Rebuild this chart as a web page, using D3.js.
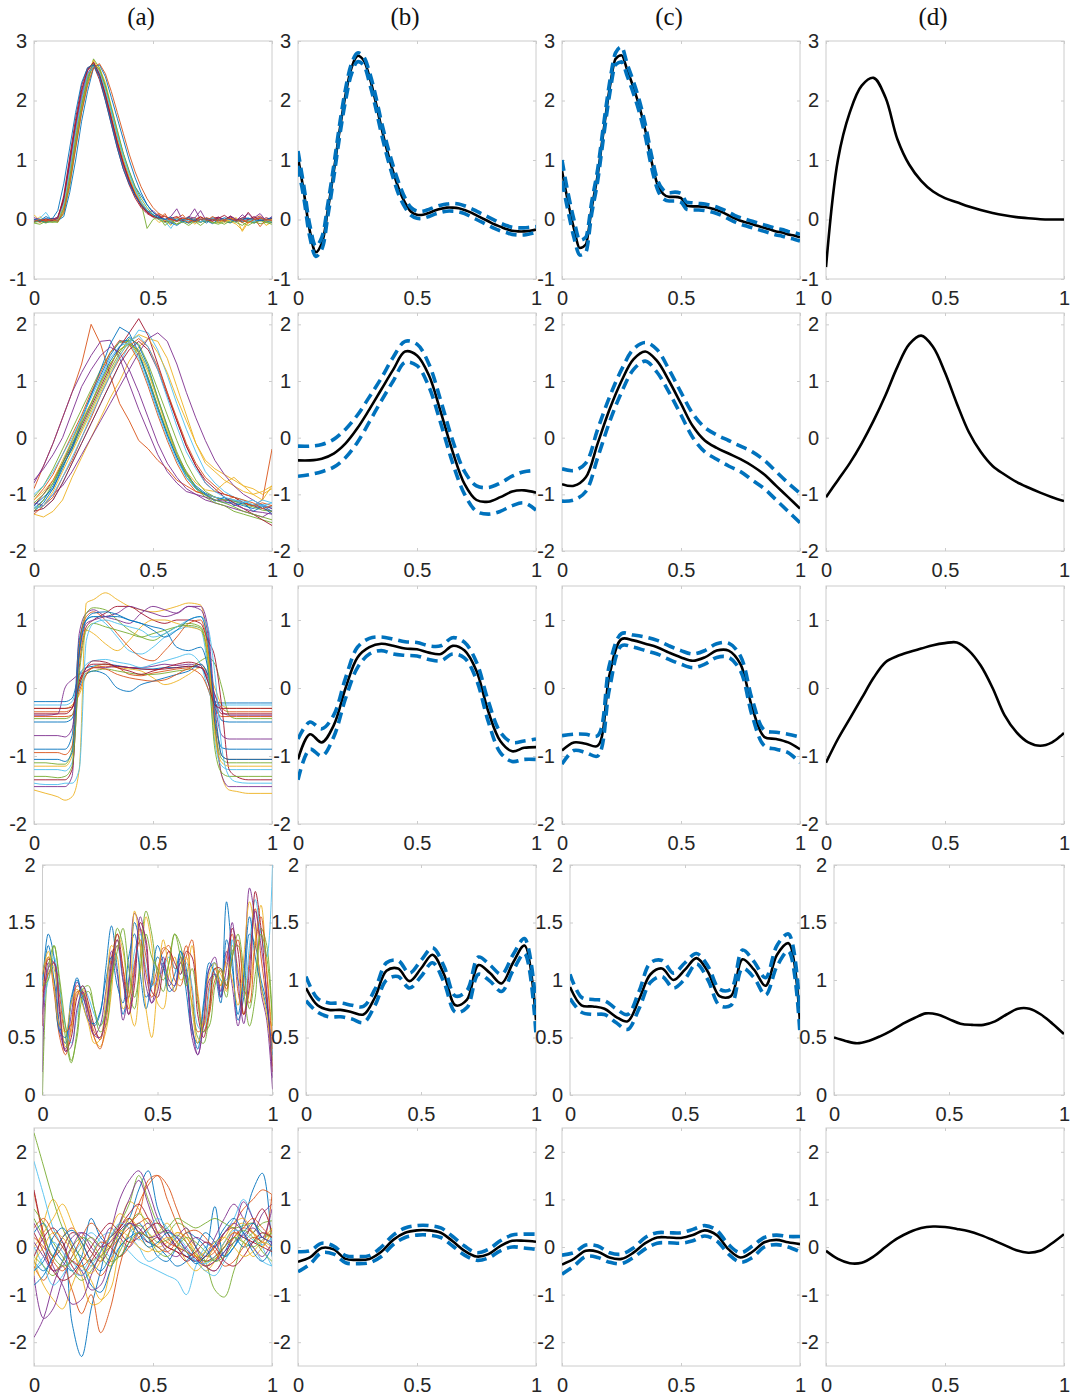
<!DOCTYPE html>
<html>
<head>
<meta charset="utf-8">
<script src="https://cdn.jsdelivr.net/npm/d3@7"></script>
<style>
  body { margin: 0; background: #fff; }
  svg { display: block; }
</style>
</head>
<body>
<svg id="fig" width="1070" height="1397"></svg>
<script>
// ---------- sample grids ----------
const grid21 = [0,0.05,0.1,0.15,0.2,0.25,0.3,0.35,0.4,0.45,0.5,0.55,0.6,0.65,0.7,0.75,0.8,0.85,0.9,0.95,1];
const grid41 = [0,0.025,0.05,0.075,0.1,0.125,0.15,0.175,0.2,0.225,0.25,0.275,0.3,0.325,0.35,0.375,0.4,0.425,0.45,0.475,0.5,
                0.525,0.55,0.575,0.6,0.625,0.65,0.675,0.7,0.725,0.75,0.775,0.8,0.825,0.85,0.875,0.9,0.925,0.95,0.975,1];
const grid26 = [0,0.04,0.08,0.12,0.16,0.2,0.24,0.28,0.32,0.36,0.4,0.44,0.48,0.52,0.56,0.6,0.64,0.68,0.72,0.76,0.8,0.84,0.88,0.92,0.96,1];
const gridStep = [0,0.05,0.1,0.13,0.16,0.19,0.22,0.25,0.3,0.35,0.4,0.45,0.5,0.55,0.6,0.65,0.7,0.73,0.76,0.79,0.82,0.85,0.9,0.95,1];

// ---------- tick labels ----------
const columnTitles = ["(a)", "(b)", "(c)", "(d)"];
const xTickValues = [0, 0.5, 1];
const yTicksRow1 = [-1, 0, 1, 2, 3];
const yTicksRow2 = [-2, -1, 0, 1, 2];
const yTicksRow3 = [-2, -1, 0, 1];
const yTicksRow4 = [0, 0.5, 1, 1.5, 2];
const yTicksRow5 = [-2, -1, 0, 1, 2];
const yDomainRow1 = [-1, 3];
const yDomainRow2 = [-2, 2.2];
const yDomainRow3 = [-2, 1.5];
const yDomainRow4 = [0, 2];
const yDomainRow5 = [-2.5, 2.5];

// ---------- row 1: pulse-shaped observations (grid41) ----------
const obsRow1 = [
  [-0.02,0.0,-0.05,0.02,0.0,0.2,0.7,1.3,1.9,2.35,2.6,2.5,2.2,1.8,1.45,1.1,0.8,0.55,0.4,0.25,0.12,0.05,0.0,-0.08,0.02,-0.05,0.03,-0.02,0.0,-0.06,0.02,0.0,-0.04,0.05,-0.03,0.0,0.02,-0.05,0.0,-0.03,-0.02],
  [0.0,-0.05,0.0,-0.03,0.05,0.35,0.95,1.6,2.15,2.5,2.62,2.4,2.05,1.65,1.25,0.9,0.62,0.4,0.22,0.12,0.06,0.0,0.1,-0.05,0.02,0.08,-0.04,0.0,0.05,-0.02,0.03,-0.05,0.0,0.04,-0.02,0.0,-0.05,0.02,0.06,-0.02,0.0],
  [-0.05,0.05,-0.04,0.0,-0.02,0.15,0.65,1.25,1.85,2.3,2.55,2.55,2.3,1.9,1.5,1.1,0.78,0.5,0.3,0.15,0.05,-0.05,0.0,-0.1,0.03,-0.02,0.05,-0.08,0.0,-0.04,0.02,-0.06,0.0,-0.03,-0.08,-0.18,0.0,-0.05,0.03,-0.1,-0.04],
  [0.0,-0.02,0.02,0.0,0.03,0.3,0.9,1.55,2.1,2.5,2.65,2.45,2.1,1.7,1.3,0.95,0.65,0.42,0.25,0.13,0.06,0.02,0.0,0.05,0.18,-0.02,0.05,0.02,0.15,-0.03,0.02,0.04,0.0,0.05,-0.02,0.08,0.0,0.03,0.1,-0.02,0.05],
  [-0.06,-0.08,-0.03,-0.05,-0.04,0.1,0.55,1.2,1.8,2.3,2.7,2.55,2.25,1.85,1.4,1.0,0.7,0.45,0.28,-0.15,0.0,0.05,-0.1,-0.02,-0.08,0.0,-0.06,-0.03,-0.1,-0.02,-0.05,-0.08,-0.03,-0.06,0.0,-0.05,-0.1,-0.04,-0.07,-0.05,-0.08],
  [0.0,0.02,0.12,-0.02,0.0,0.25,0.85,1.5,2.05,2.45,2.6,2.5,2.2,1.85,1.45,1.1,0.8,0.52,0.3,0.15,0.05,0.0,-0.03,-0.15,0.0,-0.02,0.02,-0.05,0.0,-0.03,0.04,-0.02,0.0,0.02,-0.04,0.0,0.03,-0.02,0.0,-0.04,0.0],
  [-0.03,0.0,-0.02,0.02,0.0,0.4,1.05,1.7,2.25,2.55,2.6,2.35,2.0,1.6,1.2,0.85,0.58,0.36,0.2,0.1,0.04,0.08,-0.04,0.02,0.05,-0.02,0.0,0.03,-0.05,0.02,0.0,0.04,-0.02,0.06,0.0,-0.03,0.12,0.0,-0.02,0.03,0.0],
  [-0.04,-0.02,-0.05,-0.03,-0.02,0.05,0.45,1.0,1.65,2.15,2.55,2.6,2.4,2.05,1.7,1.35,1.0,0.7,0.45,0.25,0.12,0.05,0.0,-0.05,-0.1,-0.03,-0.06,0.0,-0.04,-0.02,-0.07,0.0,-0.03,-0.05,0.0,-0.04,-0.02,-0.06,0.0,-0.03,-0.05],
  [-0.02,0.0,-0.03,0.0,0.02,0.28,0.8,1.45,2.0,2.42,2.58,2.42,2.12,1.72,1.32,0.98,0.68,0.44,0.26,0.14,0.06,0.1,0.0,-0.03,0.04,0.0,-0.05,0.02,0.0,-0.02,0.05,0.0,-0.03,0.02,0.0,-0.05,0.0,0.02,-0.12,0.0,-0.02],
  [0.08,-0.02,0.0,-0.03,0.0,0.22,0.75,1.4,1.95,2.4,2.68,2.5,2.15,1.75,1.35,1.0,0.7,0.46,0.28,0.15,0.07,0.02,-0.02,0.03,-0.03,0.0,0.02,-0.04,0.01,0.0,-0.03,0.02,-0.05,0.0,0.03,-0.2,-0.05,0.0,0.02,-0.03,0.0],
  [0.03,0.0,-0.02,0.0,0.04,0.32,0.92,1.52,2.05,2.45,2.6,2.42,2.08,1.68,1.28,0.93,0.64,0.4,0.24,0.12,0.15,0.05,0.0,0.02,-0.03,0.0,0.03,0.18,0.0,0.02,-0.02,0.03,0.0,0.05,0.0,0.02,0.1,0.0,0.04,0.0,0.02],
  [-0.05,-0.03,-0.06,-0.02,-0.05,0.18,0.7,1.35,1.92,2.38,2.62,2.52,2.25,1.88,1.5,1.12,0.82,0.55,0.35,0.2,0.08,0.0,-0.05,-0.02,-0.08,-0.04,-0.1,-0.03,-0.05,0.0,-0.06,-0.04,-0.08,-0.02,-0.05,-0.1,-0.03,-0.06,-0.02,-0.05,-0.04],
  [-0.02,0.0,0.02,-0.01,0.01,0.26,0.82,1.48,2.02,2.44,2.58,2.48,2.18,1.82,1.42,1.06,0.76,0.5,0.3,0.16,0.08,0.02,0.0,-0.03,0.01,0.0,-0.02,0.02,-0.04,0.0,0.02,-0.02,0.01,0.0,-0.03,0.02,0.0,-0.04,0.01,0.0,-0.02],
  [0.0,-0.03,0.01,-0.02,0.02,0.35,0.98,1.62,2.18,2.52,2.64,2.44,2.1,1.7,1.3,0.95,0.66,0.42,0.24,0.12,0.05,0.02,0.06,0.0,-0.02,0.03,0.0,-0.02,0.04,0.0,-0.03,0.02,0.07,0.0,-0.02,0.03,0.0,0.05,-0.02,0.0,0.02],
  [0.0,-0.02,0.05,0.0,0.15,0.6,1.2,1.8,2.3,2.55,2.6,2.4,2.0,1.6,1.2,0.85,0.6,0.4,0.25,0.15,0.08,0.03,0.0,0.04,-0.02,0.0,0.03,-0.03,0.0,0.02,0.0,-0.02,0.03,0.0,-0.03,0.0,0.02,0.0,-0.02,0.0,0.03],
  [-0.03,0.0,-0.02,0.0,-0.03,0.12,0.6,1.2,1.8,2.25,2.55,2.62,2.45,2.15,1.8,1.45,1.1,0.8,0.55,0.35,0.2,0.1,0.05,0.0,-0.03,0.02,0.0,-0.04,0.0,0.03,0.0,-0.02,0.0,0.02,-0.03,0.0,-0.06,0.0,0.02,0.0,-0.02]
];
// row 1, estimate (b) on grid41
const meanB1 = [1.05,0.45,-0.2,-0.55,-0.4,0.15,0.8,1.5,2.1,2.55,2.75,2.68,2.4,2.0,1.55,1.15,0.8,0.5,0.28,0.13,0.08,0.08,0.11,0.15,0.18,0.2,0.2,0.19,0.16,0.12,0.07,0.02,-0.03,-0.08,-0.12,-0.16,-0.19,-0.2,-0.2,-0.19,-0.17];
const upperB1 = [1.15,0.55,-0.1,-0.45,-0.3,0.25,0.9,1.6,2.2,2.62,2.8,2.74,2.48,2.1,1.65,1.25,0.9,0.6,0.36,0.2,0.14,0.14,0.17,0.21,0.24,0.26,0.27,0.26,0.23,0.19,0.14,0.09,0.04,-0.01,-0.06,-0.1,-0.13,-0.14,-0.14,-0.13,-0.12];
const lowerB1 = [0.9,0.35,-0.3,-0.62,-0.5,0.05,0.7,1.4,2.0,2.45,2.65,2.6,2.3,1.9,1.45,1.05,0.7,0.4,0.2,0.07,0.02,0.02,0.05,0.09,0.12,0.14,0.14,0.13,0.1,0.05,0.0,-0.05,-0.1,-0.15,-0.19,-0.22,-0.25,-0.26,-0.26,-0.24,-0.22];
// row 1, estimate (c) on grid41
const meanC1 = [0.82,0.3,-0.15,-0.48,-0.42,0.2,0.75,1.5,2.2,2.7,2.76,2.5,2.22,1.9,1.5,1.0,0.6,0.43,0.38,0.38,0.36,0.23,0.22,0.22,0.21,0.19,0.16,0.12,0.07,0.02,-0.02,-0.05,-0.08,-0.11,-0.14,-0.17,-0.2,-0.22,-0.25,-0.27,-0.3];
const upperC1 = [1.0,0.45,0.0,-0.35,-0.3,0.3,0.85,1.6,2.3,2.8,2.9,2.6,2.32,2.0,1.6,1.1,0.68,0.5,0.45,0.46,0.44,0.29,0.28,0.27,0.26,0.24,0.21,0.17,0.12,0.07,0.03,0.0,-0.03,-0.06,-0.09,-0.12,-0.15,-0.17,-0.2,-0.22,-0.25];
const lowerC1 = [0.65,0.15,-0.3,-0.6,-0.55,0.1,0.65,1.4,2.1,2.6,2.65,2.4,2.12,1.8,1.4,0.9,0.52,0.35,0.31,0.31,0.29,0.17,0.16,0.16,0.15,0.13,0.1,0.06,0.01,-0.04,-0.08,-0.11,-0.14,-0.17,-0.2,-0.23,-0.26,-0.28,-0.31,-0.33,-0.36];
// row 1, template (d) on grid21
const templateD1 = [-0.8,1.0,1.8,2.25,2.38,2.05,1.35,0.92,0.65,0.47,0.36,0.29,0.22,0.16,0.11,0.07,0.04,0.02,0.005,0.0,0.0];

// ---------- row 2: broad bumps (grid26) ----------
const obsRow2 = [
  [-1.25,-1.1,-0.85,-0.45,-0.05,0.35,0.75,1.1,1.45,1.7,1.72,1.5,1.05,0.55,0.05,-0.35,-0.65,-0.85,-0.98,-1.05,-1.1,-1.12,-1.15,-1.2,-1.18,-1.25],
  [-0.9,-0.5,-0.1,0.35,0.8,1.3,2.0,1.65,1.1,0.6,0.3,-0.05,-0.2,-0.4,-0.55,-0.75,-0.85,-0.95,-1.0,-1.05,-1.1,-1.05,-1.15,-1.2,-1.1,-0.2],
  [-1.35,-1.4,-1.3,-1.1,-0.7,-0.35,0.0,0.35,0.7,1.0,1.35,1.6,1.75,1.7,1.4,0.9,0.4,-0.1,-0.45,-0.6,-0.75,-0.85,-0.95,-1.0,-1.1,-0.85],
  [-0.8,-0.5,-0.1,0.35,0.8,1.15,1.45,1.7,1.72,1.4,0.95,0.5,0.1,-0.3,-0.6,-0.8,-0.95,-1.0,-1.1,-1.15,-1.2,-1.25,-1.3,-1.35,-1.4,-1.3],
  [-1.05,-0.85,-0.55,-0.2,0.15,0.5,0.85,1.2,1.5,1.68,1.7,1.45,1.05,0.55,0.1,-0.3,-0.65,-0.9,-1.05,-1.15,-1.2,-1.3,-1.35,-1.4,-1.45,-1.5],
  [-1.2,-1.25,-1.1,-0.8,-0.45,-0.1,0.25,0.6,0.95,1.3,1.65,1.9,1.85,1.55,1.1,0.6,0.15,-0.25,-0.6,-0.8,-0.95,-1.05,-1.1,-1.2,-1.1,-1.15],
  [-1.2,-1.0,-0.75,-0.45,-0.15,0.2,0.55,0.9,1.25,1.6,1.85,2.1,1.8,1.3,0.8,0.3,-0.15,-0.5,-0.8,-0.95,-1.0,-1.05,-1.15,-1.2,-1.25,-1.3],
  [-1.3,-1.15,-0.9,-0.55,-0.15,0.3,0.75,1.2,1.65,1.95,1.85,1.5,1.0,0.5,0.05,-0.35,-0.7,-0.9,-1.0,-1.1,-1.15,-1.15,-1.2,-1.25,-1.2,-1.3],
  [-1.1,-0.9,-0.65,-0.3,0.05,0.4,0.8,1.15,1.5,1.72,1.65,1.35,0.9,0.4,-0.05,-0.45,-0.75,-0.95,-1.0,-1.05,-1.1,-1.1,-1.15,-1.2,-1.15,-1.2],
  [-1.25,-1.2,-0.95,-0.6,-0.25,0.1,0.45,0.8,1.15,1.45,1.7,1.82,1.75,1.5,1.15,0.7,0.3,-0.1,-0.4,-0.55,-0.65,-0.75,-0.85,-1.0,-0.95,-0.85],
  [-1.15,-1.2,-1.0,-0.85,-0.6,-0.3,0.0,0.3,0.6,0.9,1.2,1.5,1.75,1.85,1.7,1.3,0.8,0.35,-0.05,-0.4,-0.65,-0.85,-1.0,-1.1,-1.2,-1.25],
  [-1.3,-1.1,-0.8,-0.5,-0.2,0.15,0.5,0.85,1.2,1.5,1.75,1.65,1.3,0.85,0.4,-0.05,-0.45,-0.75,-0.95,-1.05,-1.1,-1.12,-1.18,-1.22,-1.28,-1.3],
  [-1.0,-0.85,-0.6,-0.3,0.0,0.35,0.7,1.05,1.4,1.62,1.68,1.4,0.95,0.45,0.0,-0.4,-0.7,-0.9,-1.0,-1.05,-1.08,-1.1,-1.12,-1.18,-1.2,-1.22],
  [-1.3,-1.25,-1.1,-0.8,-0.45,-0.1,0.25,0.6,0.95,1.3,1.55,1.7,1.55,1.2,0.75,0.3,-0.15,-0.5,-0.75,-0.9,-1.05,-1.15,-1.25,-1.35,-1.45,-1.55],
  [-1.2,-1.05,-0.9,-0.5,-0.2,0.25,0.6,1.0,1.35,1.6,1.78,1.62,1.25,0.7,0.2,-0.3,-0.6,-0.88,-1.0,-1.12,-1.05,-1.2,-1.15,-1.3,-1.22,-1.35],
  [-1.35,-1.2,-1.05,-0.7,-0.4,0.0,0.35,0.75,1.1,1.4,1.62,1.75,1.6,1.25,0.8,0.35,-0.1,-0.45,-0.7,-0.85,-1.0,-1.05,-1.1,-1.15,-1.25,-1.2],
  [-1.1,-0.95,-0.75,-0.4,-0.05,0.3,0.62,0.98,1.3,1.55,1.68,1.5,1.15,0.65,0.15,-0.3,-0.6,-0.8,-0.92,-0.95,-0.8,-0.7,-0.85,-0.9,-1.0,-0.9],
  [-0.75,-0.55,-0.3,0.0,0.45,0.9,1.2,1.45,1.6,1.5,1.2,0.8,0.35,-0.1,-0.45,-0.7,-0.9,-1.0,-1.05,-1.1,-1.12,-1.18,-1.25,-1.3,-1.32,-1.35],
  [-1.15,-1.0,-0.8,-0.45,-0.1,0.25,0.6,0.95,1.3,1.55,1.65,1.55,1.2,0.7,0.2,-0.25,-0.62,-0.88,-1.02,-1.1,-1.15,-1.22,-1.3,-1.35,-1.4,-1.45],
  [-1.25,-1.2,-1.0,-0.7,-0.35,0.0,0.4,0.75,1.1,1.45,1.7,1.8,1.6,1.2,0.7,0.2,-0.25,-0.55,-0.8,-0.95,-1.05,-1.1,-1.15,-1.1,-1.2,-1.15]
];
// row 2 estimates on grid21
const meanB2  = [-0.4,-0.4,-0.37,-0.28,-0.1,0.17,0.5,0.85,1.2,1.52,1.45,1.1,0.45,-0.25,-0.82,-1.1,-1.13,-1.05,-0.95,-0.93,-0.97];
const upperB2 = [-0.15,-0.15,-0.12,-0.03,0.15,0.4,0.72,1.05,1.42,1.7,1.65,1.3,0.65,-0.05,-0.6,-0.85,-0.88,-0.8,-0.68,-0.6,-0.58];
const lowerB2 = [-0.68,-0.65,-0.6,-0.52,-0.35,-0.08,0.28,0.65,1.0,1.33,1.27,0.9,0.25,-0.45,-1.0,-1.3,-1.35,-1.3,-1.2,-1.15,-1.28];
const meanC2  = [-0.82,-0.85,-0.7,-0.1,0.5,1.0,1.38,1.52,1.35,1.0,0.6,0.2,-0.05,-0.18,-0.28,-0.38,-0.5,-0.65,-0.85,-1.05,-1.25];
const upperC2 = [-0.55,-0.58,-0.45,0.15,0.72,1.2,1.56,1.68,1.55,1.2,0.8,0.42,0.18,0.05,-0.05,-0.15,-0.25,-0.4,-0.6,-0.8,-0.98];
const lowerC2 = [-1.12,-1.1,-0.95,-0.35,0.28,0.8,1.2,1.35,1.15,0.8,0.4,0.0,-0.25,-0.38,-0.5,-0.6,-0.75,-0.9,-1.1,-1.3,-1.5];
const templateD2 = [-1.05,-0.75,-0.45,-0.1,0.3,0.75,1.25,1.65,1.8,1.6,1.15,0.6,0.1,-0.25,-0.5,-0.65,-0.78,-0.88,-0.97,-1.05,-1.12];

// ---------- row 3: plateau curves (gridStep) ----------
const obsRow3 = [
  [-0.2,-0.2,-0.2,-0.2,-0.15,0.2,0.3,0.32,0.35,0.33,0.3,0.28,0.28,0.3,0.3,0.32,0.3,0.1,-0.2,-0.22,-0.22,-0.22,-0.22,-0.22,-0.22],
  [-0.35,-0.35,-0.35,-0.35,-0.3,0.1,0.25,0.3,0.32,0.3,0.2,0.18,0.22,0.25,0.28,0.3,0.35,0.2,-0.1,-0.3,-0.35,-0.35,-0.35,-0.35,-0.35],
  [-0.3,-0.3,-0.3,-0.3,-0.25,-0.1,0.2,0.3,0.35,0.3,0.28,0.25,0.15,0.05,0.1,0.2,0.3,0.25,0.0,-0.25,-0.3,-0.3,-0.3,-0.3,-0.3],
  [-0.4,-0.4,-0.38,0.0,0.12,0.2,0.25,0.3,0.3,0.32,0.3,0.3,0.32,0.35,0.33,0.35,0.3,0.2,-0.1,-0.35,-0.4,-0.4,-0.4,-0.4,-0.4],
  [-0.45,-0.45,-0.45,-0.45,-0.4,0.05,0.22,0.25,0.28,0.25,0.22,0.2,0.2,0.22,0.25,0.28,0.4,0.45,0.35,0.0,-0.4,-0.45,-0.45,-0.45,-0.45],
  [-0.25,-0.25,-0.25,-0.25,-0.2,0.15,0.35,0.4,0.42,0.38,0.35,0.3,0.35,0.4,0.45,0.5,0.35,0.0,-0.25,-0.25,-0.25,-0.25,-0.25,-0.25,-0.25],
  [-0.38,-0.38,-0.38,-0.38,-0.3,0.1,0.3,0.35,0.35,0.32,0.3,0.28,0.27,0.28,0.3,0.32,0.3,0.15,-0.2,-0.38,-0.38,-0.38,-0.38,-0.38,-0.38],
  [-0.5,-0.5,-0.5,-0.5,-0.45,0.0,0.2,0.25,0.2,0.0,-0.05,0.05,0.1,0.15,0.2,0.25,0.35,0.2,-0.2,-0.48,-0.5,-0.5,-0.5,-0.5,-0.5],
  [-0.42,-0.42,-0.42,-0.42,-0.4,-0.05,0.2,0.3,0.28,0.2,0.15,0.12,0.1,0.12,0.2,0.28,0.2,0.0,-0.3,-0.42,-0.42,-0.42,-0.42,-0.42,-0.42],
  [-1.5,-1.55,-1.6,-1.65,-1.6,-1.2,1.25,1.3,1.4,1.3,1.2,1.15,1.12,1.15,1.2,1.25,1.22,0.6,-0.6,-1.3,-1.5,-1.52,-1.55,-1.55,-1.55],
  [-1.45,-1.45,-1.45,-1.45,-1.3,0.8,1.1,1.15,1.05,1.0,0.95,1.1,1.2,1.15,1.1,1.2,1.15,0.8,-0.5,-1.3,-1.45,-1.45,-1.45,-1.45,-1.45],
  [-1.1,-1.1,-1.12,-1.12,-0.9,0.6,1.1,1.18,1.15,1.0,0.85,0.75,0.7,0.8,0.9,0.95,0.9,0.5,-0.6,-1.05,-1.1,-1.1,-1.1,-1.1,-1.1],
  [-1.2,-1.2,-1.2,-1.22,-1.1,0.5,1.0,1.05,0.95,0.75,0.55,0.5,0.6,0.75,0.85,0.9,0.85,0.3,-0.8,-1.15,-1.2,-1.2,-1.2,-1.2,-1.2],
  [-1.35,-1.35,-1.35,-1.35,-1.2,0.3,0.9,1.0,1.1,1.2,1.2,1.1,1.0,0.95,1.0,1.0,0.95,0.7,0.45,-0.3,-1.2,-1.3,-1.35,-1.35,-1.35],
  [-0.9,-0.9,-0.9,-0.9,-0.7,0.7,1.0,1.05,1.05,1.05,1.0,0.95,0.9,0.85,0.6,0.55,0.6,0.3,-0.5,-0.88,-0.9,-0.9,-0.9,-0.9,-0.9],
  [-0.95,-0.95,-0.95,-0.98,-0.85,0.6,1.05,1.12,1.0,0.8,0.6,0.45,0.4,0.55,0.75,0.95,1.0,0.6,-0.4,-1.0,-1.05,-1.05,-1.05,-1.05,-1.05],
  [-1.15,-1.15,-1.15,-1.15,-1.0,0.4,0.85,0.8,0.65,0.55,0.7,0.9,1.0,1.0,0.95,0.9,0.85,0.5,-0.7,-1.1,-1.15,-1.15,-1.15,-1.15,-1.15],
  [-0.7,-0.7,-0.7,-0.72,-0.6,0.5,0.95,1.0,1.05,1.1,1.2,1.15,1.1,1.05,1.1,1.2,1.2,0.9,-0.2,-0.7,-0.75,-0.75,-0.75,-0.75,-0.75],
  [-1.3,-1.3,-1.32,-1.3,-1.15,0.2,0.85,0.95,0.9,0.85,0.8,0.75,0.8,0.85,0.9,0.92,0.88,0.4,-0.9,-1.25,-1.3,-1.3,-1.3,-1.3,-1.3],
  [-1.4,-1.42,-1.42,-1.4,-1.4,-1.2,0.7,0.95,1.0,0.95,0.9,0.85,0.75,0.8,0.9,1.0,1.05,0.9,0.2,-0.9,-1.3,-1.38,-1.4,-1.4,-1.4],
  [-0.3,-0.3,-0.3,-0.3,-0.28,0.05,0.3,0.4,0.38,0.3,0.25,0.2,0.25,0.3,0.35,0.38,0.33,0.1,-0.25,-0.3,-0.3,-0.3,-0.3,-0.3,-0.3],
  [-1.05,-1.05,-1.05,-1.08,-0.95,0.5,1.0,1.1,1.12,1.08,1.0,0.95,0.85,0.75,0.85,1.0,1.05,0.7,-0.3,-1.0,-1.05,-1.05,-1.05,-1.05,-1.05]
];
// row 3 estimates on grid21
const meanB3  = [-1.05,-0.68,-0.8,-0.55,0.0,0.45,0.6,0.65,0.62,0.58,0.57,0.52,0.5,0.62,0.55,0.25,-0.35,-0.78,-0.93,-0.88,-0.87];
const upperB3 = [-0.75,-0.5,-0.6,-0.4,0.15,0.6,0.73,0.75,0.72,0.68,0.67,0.62,0.62,0.74,0.67,0.38,-0.2,-0.65,-0.8,-0.78,-0.75];
const lowerB3 = [-1.35,-0.9,-1.0,-0.72,-0.15,0.3,0.5,0.55,0.5,0.48,0.47,0.42,0.4,0.5,0.44,0.12,-0.5,-0.95,-1.08,-1.05,-1.05];
const meanC3  = [-0.92,-0.8,-0.82,-0.85,0.2,0.72,0.7,0.65,0.6,0.52,0.45,0.4,0.45,0.55,0.55,0.35,-0.3,-0.72,-0.75,-0.8,-0.9];
const upperC3 = [-0.7,-0.68,-0.68,-0.7,0.35,0.8,0.78,0.75,0.7,0.62,0.55,0.5,0.55,0.65,0.66,0.47,-0.18,-0.62,-0.65,-0.68,-0.72];
const lowerC3 = [-1.12,-0.92,-0.95,-1.0,0.0,0.62,0.6,0.55,0.5,0.42,0.35,0.3,0.35,0.45,0.45,0.25,-0.42,-0.85,-0.9,-0.95,-1.1];
const templateD3 = [-1.1,-0.75,-0.45,-0.15,0.15,0.38,0.47,0.53,0.58,0.63,0.66,0.67,0.55,0.33,0.0,-0.4,-0.65,-0.8,-0.85,-0.8,-0.66];

// ---------- row 4: oscillating curves (grid41) ----------
const obsRow4 = [
  [0.95,1.4,1.2,0.6,0.45,0.8,1.02,0.85,0.72,0.6,0.7,1.1,1.47,1.1,0.7,1.0,1.5,1.3,0.85,0.95,1.2,1.1,0.95,1.05,1.25,0.9,0.55,0.45,0.75,1.1,1.15,0.85,1.68,1.2,0.65,0.85,1.4,1.3,1.0,0.8,0.3],
  [1.05,1.2,0.9,0.5,0.35,0.6,0.95,0.9,0.75,0.55,0.5,0.75,1.2,1.35,1.0,0.75,1.1,1.45,1.2,0.95,1.1,1.25,1.3,1.1,1.15,1.3,0.9,0.55,0.6,0.95,1.1,0.95,1.2,1.4,0.9,0.7,1.2,1.62,1.2,0.8,0.25],
  [0.85,1.2,1.1,0.75,0.42,0.55,0.88,0.92,0.75,0.5,0.42,0.55,0.9,1.4,1.25,0.8,0.6,1.05,1.55,1.3,0.8,0.75,1.05,1.2,1.0,1.05,1.3,0.9,0.6,0.8,1.1,1.05,0.9,1.3,1.1,0.7,0.9,1.35,1.65,1.1,0.5],
  [0.2,1.15,1.0,0.55,0.4,0.7,0.98,0.88,0.65,0.52,0.6,0.9,1.25,1.05,0.65,0.95,1.58,1.45,0.95,0.8,1.05,1.2,0.95,0.9,1.2,1.05,0.5,0.35,0.65,1.1,1.2,0.9,1.25,0.95,0.6,1.0,1.8,1.5,0.9,0.65,0.05],
  [0.0,1.1,1.3,0.95,0.5,0.28,0.55,0.92,0.95,0.75,0.55,0.6,1.0,1.45,1.3,0.9,0.75,1.2,1.6,1.4,1.05,0.9,1.15,1.4,1.3,1.0,0.8,0.5,0.45,0.7,1.05,1.0,0.85,1.25,1.3,0.9,0.6,0.85,1.45,1.3,0.6],
  [0.75,1.0,1.2,0.9,0.6,0.45,0.7,0.95,0.85,0.7,0.6,0.75,1.15,1.3,1.0,0.85,1.25,1.4,1.1,0.95,1.0,1.1,1.2,1.1,1.05,1.15,0.95,0.6,0.55,0.9,1.15,1.0,1.0,1.35,1.0,0.9,1.3,1.7,1.4,1.2,2.0],
  [0.6,1.18,1.15,0.7,0.38,0.5,0.85,0.95,0.8,0.6,0.48,0.7,1.15,1.4,1.1,0.7,0.95,1.5,1.35,0.9,0.85,1.1,1.25,1.15,1.05,1.25,1.2,0.7,0.5,0.75,1.1,1.1,0.95,1.45,1.25,0.7,0.95,1.77,1.45,0.85,0.2],
  [1.0,1.3,1.0,0.55,0.5,0.85,1.0,0.8,0.65,0.62,0.72,1.0,1.2,0.95,0.8,1.2,1.4,1.05,0.75,1.0,1.3,1.15,0.9,0.95,1.25,1.1,0.6,0.4,0.8,1.15,1.05,0.8,1.35,1.1,0.7,1.05,1.55,1.2,0.95,0.75,0.35],
  [0.9,1.05,1.15,0.85,0.55,0.62,0.9,0.88,0.7,0.5,0.4,0.62,1.05,1.3,1.1,0.85,1.15,1.35,1.05,0.85,1.0,1.28,1.25,1.0,0.95,1.2,1.35,0.85,0.55,0.7,1.0,1.08,0.92,1.2,1.35,0.95,0.8,1.3,1.55,1.05,0.4],
  [1.05,1.25,0.95,0.6,0.55,0.8,0.92,0.78,0.62,0.45,0.48,0.85,1.3,1.2,0.75,0.85,1.6,1.3,0.75,0.5,0.95,1.35,1.1,0.9,1.1,1.2,0.75,0.45,0.65,1.05,1.15,0.95,1.15,1.0,0.78,1.2,1.68,1.4,0.95,0.7,0.3],
  [0.7,1.1,1.15,0.75,0.38,0.42,0.75,0.9,0.72,0.52,0.5,0.7,1.1,1.35,1.0,0.7,1.05,1.55,1.3,0.8,0.9,1.15,1.0,0.95,1.15,1.0,0.6,0.35,0.6,1.0,1.05,0.85,1.1,1.5,1.0,0.62,1.1,1.6,1.3,0.9,0.15],
  [0.95,1.0,1.3,1.0,0.6,0.3,0.5,0.85,0.9,0.75,0.6,0.7,1.0,1.25,1.45,1.1,0.85,1.1,1.4,1.2,1.1,1.0,1.15,1.4,1.2,0.95,1.1,0.8,0.55,0.6,0.95,1.1,0.95,1.2,1.4,1.1,0.75,1.05,1.4,1.2,0.65]
];
// row 4 estimates on grid21
const meanB4  = [0.93,0.78,0.74,0.74,0.72,0.7,0.85,1.08,1.1,0.99,1.1,1.22,1.05,0.78,0.83,1.13,1.06,0.97,1.15,1.3,0.65];
const upperB4 = [1.03,0.84,0.8,0.8,0.78,0.77,0.92,1.15,1.17,1.06,1.17,1.28,1.12,0.86,0.91,1.2,1.13,1.05,1.22,1.36,0.78];
const lowerB4 = [0.82,0.72,0.68,0.68,0.66,0.63,0.78,1.0,1.03,0.93,1.03,1.15,0.98,0.72,0.76,1.05,0.99,0.9,1.08,1.23,0.53];
const meanC4  = [0.94,0.78,0.77,0.75,0.68,0.64,0.83,1.05,1.1,1.0,1.09,1.19,1.07,0.86,0.86,1.18,1.09,0.95,1.22,1.32,0.62];
const upperC4 = [1.05,0.85,0.83,0.82,0.75,0.7,0.9,1.15,1.17,1.06,1.15,1.23,1.12,0.92,0.92,1.26,1.16,1.02,1.3,1.4,0.72];
const lowerC4 = [0.84,0.72,0.7,0.7,0.63,0.57,0.75,0.98,1.03,0.93,1.01,1.14,1.0,0.78,0.78,1.1,1.02,0.87,1.12,1.25,0.53];
const templateD4 = [0.5,0.47,0.45,0.47,0.51,0.56,0.62,0.67,0.71,0.7,0.66,0.62,0.61,0.61,0.64,0.7,0.75,0.75,0.7,0.62,0.53];

// ---------- row 5: noisy smooth curves (grid26) ----------
const obsRow5 = [
  [-0.3,-0.5,-0.2,0.1,-1.6,-2.3,-1.3,-0.5,0.2,0.35,0.6,1.2,1.6,0.8,0.3,0.0,-0.2,-0.3,-0.1,0.85,-0.2,0.0,0.5,1.2,1.55,-0.2],
  [1.15,0.2,-0.5,-0.4,-0.9,-1.4,-1.0,-1.8,-1.3,-0.4,0.3,0.9,1.3,1.5,1.3,0.8,0.3,0.0,-0.2,-0.1,0.3,0.5,0.8,1.0,1.2,1.1],
  [-0.6,0.5,1.0,0.6,0.0,-0.6,-1.2,-1.15,-0.5,0.4,0.95,0.8,0.3,0.0,0.1,0.3,0.2,-0.2,-0.5,-0.3,0.1,0.4,0.5,0.3,0.2,0.4],
  [-1.9,-1.5,-0.8,-0.3,0.2,0.3,0.0,-0.2,0.3,1.0,1.4,1.6,1.2,0.6,0.2,0.0,-0.1,-0.3,-0.2,0.2,0.6,0.9,0.6,0.3,0.7,0.9],
  [2.4,1.7,1.0,0.4,0.0,-0.2,-0.3,-0.1,0.2,0.5,0.9,1.5,1.0,0.5,0.3,0.5,0.4,0.0,-0.3,-0.9,-1.05,-0.5,0.1,0.3,0.5,0.55],
  [1.8,1.1,0.4,0.0,-0.3,-0.5,-0.2,0.2,0.3,0.1,-0.1,-0.3,-0.4,-0.5,-0.6,-0.7,-1.0,-0.4,0.0,0.1,0.3,0.6,1.0,0.6,0.0,-0.4],
  [1.2,0.3,-0.2,0.0,0.3,0.2,-0.1,-0.3,0.0,0.4,0.7,0.9,0.6,0.2,0.0,-0.1,-0.2,-0.3,-0.2,0.0,0.3,0.4,0.2,0.5,0.8,0.3],
  [0.3,0.5,0.0,-0.3,-0.5,-0.2,0.6,0.2,0.0,-0.2,0.1,0.5,0.2,-0.2,-0.3,0.0,0.3,0.2,0.0,-0.3,-0.1,0.2,0.0,0.1,0.2,0.0],
  [-0.4,-0.7,-0.3,0.2,0.4,0.1,-0.3,-0.6,-0.3,0.2,0.5,0.7,1.4,1.5,1.0,0.5,0.1,-0.2,-0.4,-0.5,-0.2,0.2,0.4,0.3,0.1,1.1],
  [-0.3,-0.8,-1.1,-1.3,-0.8,-0.4,-0.7,-1.1,-0.9,0.0,0.6,0.4,0.2,0.3,0.5,0.1,-0.3,-0.5,-0.3,0.0,0.2,0.5,0.6,0.3,0.0,0.4],
  [-0.6,-1.5,-1.3,-0.7,-0.3,-0.5,-0.9,-0.8,-0.2,0.5,1.0,1.4,0.9,0.3,0.0,0.2,0.4,0.0,-0.4,-0.5,-0.2,0.3,0.95,0.6,0.2,0.8],
  [0.8,0.5,0.1,-0.2,-0.5,-0.7,-0.5,-0.2,0.0,0.3,0.5,0.7,0.5,0.3,0.4,0.6,0.5,0.4,0.5,0.6,0.5,0.4,0.45,0.5,0.3,0.2],
  [0.0,-0.4,-0.8,-0.6,-0.2,0.1,0.3,0.1,-0.2,0.0,0.2,0.0,-0.3,-0.2,0.0,0.2,0.0,-0.3,-0.5,-0.6,-0.3,0.0,0.2,0.0,-0.3,-0.4],
  [-0.2,0.2,0.4,0.1,-0.4,-0.6,-0.3,0.0,0.2,0.4,0.6,0.3,0.1,0.2,0.0,-0.1,-0.3,-0.2,-0.3,-0.2,0.0,0.3,0.2,0.1,0.0,-0.1],
  [-0.5,-0.3,0.2,0.4,0.1,-0.3,-0.8,-0.95,-0.5,0.0,0.2,0.3,0.1,0.0,-0.2,-0.4,-0.3,0.0,0.3,0.1,-0.2,0.0,0.3,0.5,0.2,0.1],
  [0.2,0.0,-0.3,-0.5,-0.2,0.2,0.5,0.3,0.0,0.2,0.4,0.5,0.6,0.3,0.1,0.0,-0.1,-0.2,-0.4,-0.3,0.0,0.2,0.4,0.6,0.4,0.2],
  [0.0,0.3,0.6,0.9,0.5,0.0,-0.4,-0.2,0.3,0.7,0.5,0.2,0.0,-0.1,0.0,0.3,0.2,-0.1,-0.4,-0.2,0.1,0.3,0.1,-0.2,0.0,0.3],
  [0.5,0.1,-0.4,-0.8,-1.2,-1.1,-0.6,-0.1,0.4,0.2,0.0,0.3,0.5,0.2,-0.1,-0.2,0.0,0.2,0.1,0.0,0.3,0.5,0.3,0.0,-0.2,0.1],
  [-0.2,-0.4,-0.6,-0.3,0.0,0.2,0.1,-0.2,-0.4,-0.1,0.3,0.45,0.3,0.1,0.15,0.25,0.1,-0.15,-0.3,-0.25,0.0,0.2,0.1,0.0,0.15,0.3],
  [-0.5,-0.2,0.1,-0.1,-0.5,-0.6,-0.4,-0.1,0.2,0.5,0.4,0.15,0.35,0.6,0.4,0.1,-0.1,-0.3,-0.35,-0.2,0.1,0.35,0.3,0.15,0.05,0.2],
  [0.3,-0.1,-0.5,-0.7,-0.6,-0.3,0.0,0.3,0.5,0.3,0.1,0.2,0.4,0.5,0.3,0.0,-0.2,-0.1,0.1,0.0,-0.3,-0.4,-0.2,0.1,0.3,0.2],
  [-0.8,-0.6,-0.2,0.2,0.35,0.1,-0.3,-0.5,-0.2,0.2,0.5,0.3,0.0,0.1,0.3,0.2,-0.1,-0.35,-0.2,0.05,0.4,0.6,0.3,-0.1,-0.3,0.0],
  [0.4,0.6,0.3,0.0,-0.3,-0.4,-0.2,0.1,0.0,-0.2,0.0,0.3,0.2,0.0,-0.1,0.1,0.3,0.35,0.2,-0.1,-0.4,-0.3,0.0,0.2,0.1,-0.1],
  [-0.3,0.0,0.3,0.2,-0.1,-0.4,-0.55,-0.3,0.1,0.35,0.2,0.0,-0.1,0.05,0.2,0.1,-0.1,-0.2,-0.1,0.1,0.2,0.0,-0.2,-0.1,0.1,0.0],
  [0.1,-0.2,-0.5,-0.4,0.0,0.3,0.2,0.0,0.1,0.35,0.5,0.4,0.2,0.25,0.35,0.2,-0.05,-0.25,-0.4,-0.3,-0.1,0.1,0.25,0.4,0.2,0.1],
  [0.6,0.2,-0.2,-0.4,-0.3,0.0,0.2,0.0,-0.3,-0.2,0.1,0.3,0.2,-0.1,-0.2,0.0,0.2,0.1,-0.1,-0.3,-0.2,0.1,0.35,0.2,-0.1,-0.3]
];
// row 5 estimates on grid21
const meanB5  = [-0.31,-0.22,-0.02,-0.05,-0.25,-0.27,-0.25,-0.1,0.15,0.3,0.35,0.35,0.3,0.12,-0.08,-0.2,-0.15,0.02,0.13,0.13,0.11];
const upperB5 = [-0.1,-0.08,0.08,0.02,-0.18,-0.2,-0.18,0.0,0.25,0.4,0.45,0.45,0.4,0.22,0.02,-0.12,-0.05,0.13,0.25,0.27,0.27];
const lowerB5 = [-0.52,-0.36,-0.12,-0.15,-0.33,-0.35,-0.33,-0.2,0.05,0.2,0.25,0.25,0.2,0.02,-0.17,-0.28,-0.23,-0.08,0.0,-0.02,-0.05];
const meanC5  = [-0.37,-0.25,-0.08,-0.1,-0.22,-0.25,-0.12,0.08,0.2,0.2,0.19,0.25,0.35,0.25,-0.05,-0.22,-0.1,0.1,0.15,0.1,0.06];
const upperC5 = [-0.17,-0.12,0.04,0.02,-0.12,-0.15,-0.02,0.2,0.3,0.3,0.3,0.37,0.45,0.35,0.05,-0.12,0.02,0.2,0.25,0.22,0.22];
const lowerC5 = [-0.57,-0.4,-0.2,-0.22,-0.32,-0.35,-0.22,-0.04,0.08,0.09,0.08,0.13,0.23,0.13,-0.15,-0.32,-0.22,0.0,0.05,0.0,-0.1];
const templateD5 = [-0.08,-0.25,-0.34,-0.33,-0.2,0.0,0.18,0.31,0.4,0.43,0.42,0.38,0.33,0.25,0.15,0.04,-0.07,-0.12,-0.08,0.08,0.27];

// ---------- colours ----------
const lineColors = ["#0072BD","#D95319","#EDB120","#7E2F8E","#77AC30","#4DBEEE","#A2142F"];
const bandColor = "#0072BD";
const meanColor = "#000000";
const axisColor = "#cccccc";
const labelColor = "#262626";

// ---------- row descriptions ----------
const rows = [
  { domain: yDomainRow1, ticks: yTicksRow1, obs: obsRow1, obsGrid: grid41, obsCurve: d3.curveLinear,
    b: { grid: grid41, mean: meanB1, hi: upperB1, lo: lowerB1, curve: d3.curveCatmullRom },
    c: { grid: grid41, mean: meanC1, hi: upperC1, lo: lowerC1, curve: d3.curveMonotoneX },
    d: { grid: grid21, mean: templateD1, curve: d3.curveCatmullRom } },
  { domain: yDomainRow2, ticks: yTicksRow2, obs: obsRow2, obsGrid: grid26, obsCurve: d3.curveLinear,
    b: { grid: grid21, mean: meanB2, hi: upperB2, lo: lowerB2, curve: d3.curveCatmullRom },
    c: { grid: grid21, mean: meanC2, hi: upperC2, lo: lowerC2, curve: d3.curveCatmullRom },
    d: { grid: grid21, mean: templateD2, curve: d3.curveCatmullRom } },
  { domain: yDomainRow3, ticks: yTicksRow3, obs: obsRow3, obsGrid: gridStep, obsCurve: d3.curveMonotoneX,
    b: { grid: grid21, mean: meanB3, hi: upperB3, lo: lowerB3, curve: d3.curveCatmullRom },
    c: { grid: grid21, mean: meanC3, hi: upperC3, lo: lowerC3, curve: d3.curveCatmullRom },
    d: { grid: grid21, mean: templateD3, curve: d3.curveCatmullRom } },
  { domain: yDomainRow4, ticks: yTicksRow4, obs: obsRow4, obsGrid: grid41, obsCurve: d3.curveCatmullRom,
    b: { grid: grid21, mean: meanB4, hi: upperB4, lo: lowerB4, curve: d3.curveCatmullRom },
    c: { grid: grid21, mean: meanC4, hi: upperC4, lo: lowerC4, curve: d3.curveCatmullRom },
    d: { grid: grid21, mean: templateD4, curve: d3.curveCatmullRom } },
  { domain: yDomainRow5, ticks: yTicksRow5, obs: obsRow5, obsGrid: grid26, obsCurve: d3.curveCatmullRom,
    b: { grid: grid21, mean: meanB5, hi: upperB5, lo: lowerB5, curve: d3.curveCatmullRom },
    c: { grid: grid21, mean: meanC5, hi: upperC5, lo: lowerC5, curve: d3.curveCatmullRom },
    d: { grid: grid21, mean: templateD5, curve: d3.curveCatmullRom } }
];

// ---------- layout ----------
const colLeft = [34, 298, 562, 826];
const colLeftNarrow = [42.5, 306, 570, 834];
const rowTop = [41, 313, 586, 865, 1128];
const rowSize = [238, 238, 238, 230, 238];
const titleX = [141, 405, 669, 933];

const svg = d3.select("#fig");
const fmt = d => String(d);

function makePanel(left, top, size, yDomain, yTicks, clipId) {
  const g = svg.append("g").attr("transform", `translate(${left},${top})`);
  const x = d3.scaleLinear().domain([0, 1]).range([0, size]);
  const y = d3.scaleLinear().domain(yDomain).range([size, 0]);

  g.append("clipPath").attr("id", clipId)
    .append("rect").attr("width", size).attr("height", size);

  g.append("rect").attr("width", size).attr("height", size)
    .attr("fill", "none").attr("stroke", axisColor).attr("stroke-width", 1);

  const styleAxis = (sel, keepText) => {
    sel.select(".domain").remove();
    sel.selectAll(".tick line").attr("stroke", axisColor).attr("stroke-width", 1);
    if (keepText) {
      sel.selectAll(".tick text")
        .attr("fill", labelColor)
        .style("font-family", "'Liberation Sans', Arial, Helvetica, sans-serif")
        .style("font-size", "20px");
    } else {
      sel.selectAll(".tick text").remove();
    }
  };

  g.append("g").attr("transform", `translate(0,${size})`)
    .call(d3.axisBottom(x).tickValues(xTickValues).tickFormat(fmt).tickSizeInner(-3).tickSizeOuter(0).tickPadding(11.8))
    .call(s => styleAxis(s, true));
  g.append("g")
    .call(d3.axisTop(x).tickValues(xTickValues).tickFormat(() => "").tickSizeInner(-3).tickSizeOuter(0))
    .call(s => styleAxis(s, false));
  g.append("g")
    .call(d3.axisLeft(y).tickValues(yTicks).tickFormat(fmt).tickSizeInner(-3).tickSizeOuter(0).tickPadding(7))
    .call(s => styleAxis(s, true));
  g.append("g").attr("transform", `translate(${size},0)`)
    .call(d3.axisRight(y).tickValues(yTicks).tickFormat(() => "").tickSizeInner(-3).tickSizeOuter(0))
    .call(s => styleAxis(s, false));

  const plot = g.append("g").attr("clip-path", `url(#${clipId})`);
  return { plot, x, y };
}

function linePath(x, y, grid, values, curve) {
  return d3.line().x((d, i) => x(grid[i])).y(d => y(d)).curve(curve)(values);
}

rows.forEach((row, r) => {
  const lefts = r === 3 ? colLeftNarrow : colLeft;
  const size = rowSize[r];
  const top = rowTop[r];

  // (a) individual observations
  {
    const { plot, x, y } = makePanel(lefts[0], top, size, row.domain, row.ticks, `clip-${r}-0`);
    row.obs.forEach((vals, k) => {
      plot.append("path")
        .attr("d", linePath(x, y, row.obsGrid, vals, row.obsCurve))
        .attr("fill", "none")
        .attr("stroke", lineColors[k % lineColors.length])
        .attr("stroke-width", 0.9)
        .attr("stroke-linejoin", "round");
    });
  }

  // (b), (c) estimate with dashed bands
  [row.b, row.c].forEach((est, j) => {
    const { plot, x, y } = makePanel(lefts[j + 1], top, size, row.domain, row.ticks, `clip-${r}-${j + 1}`);
    plot.append("path")
      .attr("d", linePath(x, y, est.grid, est.mean, est.curve))
      .attr("fill", "none").attr("stroke", meanColor).attr("stroke-width", 2.6);
    [est.hi, est.lo].forEach(band => {
      plot.append("path")
        .attr("d", linePath(x, y, est.grid, band, est.curve))
        .attr("fill", "none").attr("stroke", bandColor)
        .attr("stroke-width", 3.6).attr("stroke-dasharray", "11,6");
    });
  });

  // (d) template curve
  {
    const { plot, x, y } = makePanel(lefts[3], top, size, row.domain, row.ticks, `clip-${r}-3`);
    plot.append("path")
      .attr("d", linePath(x, y, row.d.grid, row.d.mean, row.d.curve))
      .attr("fill", "none").attr("stroke", meanColor).attr("stroke-width", 2.6);
  }
});

// column titles
svg.selectAll("text.col-title")
  .data(columnTitles)
  .join("text")
  .attr("class", "col-title")
  .attr("x", (d, i) => titleX[i])
  .attr("y", 25)
  .attr("text-anchor", "middle")
  .attr("fill", "#111")
  .style("font-family", "'Liberation Serif', 'Times New Roman', serif")
  .style("font-size", "25px")
  .text(d => d);
</script>
</body>
</html>
